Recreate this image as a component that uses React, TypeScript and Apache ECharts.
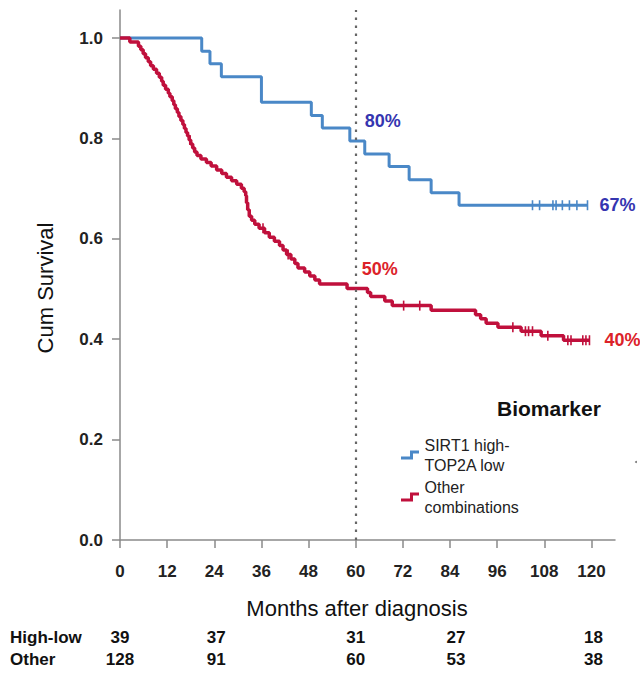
import React, { useEffect, useRef } from 'react';
import * as echarts from 'echarts';

const FONT = "'Liberation Sans', Arial, Helvetica, sans-serif";

// axis ticks
const xTicks = [0, 12, 24, 36, 48, 60, 72, 84, 96, 108, 120];
const yTicks = [0, 0.2, 0.4, 0.6, 0.8, 1.0];

// group names
const blueName = 'SIRT1 high-TOP2A low';
const redName = 'Other combinations';
const legendTitle = 'Biomarker';

// Kaplan-Meier steps [month, survival after the drop]
const blueSteps = [
  [0, 1.0], [20.8, 0.974], [22.9, 0.949], [25.8, 0.923], [36.0, 0.872],
  [48.7, 0.846], [51.5, 0.821], [58.5, 0.795], [62.3, 0.769], [68.5, 0.744],
  [73.6, 0.718], [79.2, 0.692], [86.3, 0.667], [119.0, 0.667],
];

const blueCensored = [
  [105.0, 0.667], [106.8, 0.667], [110.2, 0.667], [111.0, 0.667],
  [112.6, 0.667], [114.4, 0.667], [116.3, 0.667], [119.0, 0.667],
];

const redSteps = [
  [0, 1.0], [2.5, 0.992], [4.7, 0.984], [5.3, 0.977], [5.9, 0.969], [6.5, 0.961],
  [7.2, 0.953], [7.8, 0.945], [8.5, 0.938], [9.3, 0.930], [10.0, 0.922],
  [10.6, 0.914], [11.0, 0.906], [11.6, 0.898], [12.3, 0.890], [12.7, 0.883],
  [13.3, 0.875], [13.7, 0.867], [14.1, 0.859], [14.6, 0.852], [15.0, 0.844],
  [15.5, 0.836], [16.0, 0.828], [16.4, 0.820], [16.8, 0.812], [17.2, 0.805],
  [17.6, 0.797], [18.0, 0.789], [18.5, 0.781], [19.0, 0.773], [19.6, 0.766],
  [20.6, 0.759], [22.0, 0.752], [23.2, 0.745], [24.6, 0.737], [25.9, 0.730],
  [27.1, 0.723], [28.4, 0.716], [29.7, 0.709], [30.9, 0.701], [31.6, 0.694],
  [32.0, 0.686], [32.2, 0.672], [32.5, 0.658], [32.9, 0.645], [33.5, 0.637],
  [34.3, 0.629], [35.4, 0.621], [36.8, 0.612], [38.0, 0.603], [39.3, 0.595],
  [40.6, 0.587], [41.5, 0.578], [42.4, 0.569], [43.5, 0.560], [44.5, 0.551],
  [45.3, 0.542], [47.0, 0.534], [48.3, 0.526], [49.6, 0.518], [50.8, 0.510],
  [57.8, 0.501], [63.0, 0.493], [63.8, 0.485], [67.4, 0.476], [69.3, 0.467],
  [79.2, 0.458], [90.5, 0.449], [91.8, 0.441], [93.2, 0.432], [96.2, 0.424],
  [102.1, 0.416], [107.2, 0.407], [112.9, 0.398], [119.5, 0.398],
];

const redCensored = [
  [17.8, 0.797], [36.4, 0.621], [42.8, 0.569], [72.2, 0.467], [76.3, 0.467],
  [100.0, 0.424], [103.2, 0.416], [104.0, 0.416], [105.0, 0.416], [108.9, 0.407],
  [114.0, 0.398], [114.8, 0.398], [117.8, 0.398], [118.6, 0.398], [119.5, 0.398],
];

// survival annotations [month, survival, text]
const bluePct = [[60, 0.795, '80%'], [119, 0.667, '67%']];
const redPct = [[60, 0.501, '50%'], [119.5, 0.398, '40%']];

// numbers at risk
const riskRows = ['High-low', 'Other'];
const riskTimes = [0, 24, 60, 84, 120];
const riskHighLow = [39, 37, 31, 27, 18];
const riskOther = [128, 91, 60, 53, 38];

const BLUE = '#4A88C7';
const RED = '#C0103C';
const BLUE_TXT = '#3535B0';
const RED_TXT = '#DC2229';
const AXIS = '#8a8a8a';

export default function App() {
  const ref = useRef<HTMLDivElement>(null);

  useEffect(() => {
    document.body.style.margin = '0';
    if (!ref.current) return;
    const chart = echarts.init(ref.current, null, { renderer: 'svg' });

    const pctOffsets = [[27, -20], [30, 0]];
    const redPctOffsets = [[24, -20], [33, 0]];
    const riskOffsets = [0, 2, 0, 6, 2];

    const riskData: any[] = [];
    riskTimes.forEach((t, i) => {
      riskData.push({ value: [t, riskRows[0], riskHighLow[i]], label: { offset: [riskOffsets[i], 0] } });
      riskData.push({ value: [t, riskRows[1], riskOther[i]], label: { offset: [riskOffsets[i], 0] } });
    });

    const tickLabel = { fontSize: 17, fontWeight: 'bold', color: '#222', fontFamily: FONT };

    const option: any = {
      animation: false,
      backgroundColor: '#ffffff',
      textStyle: { fontFamily: FONT },
      title: {
        text: legendTitle,
        left: 492,
        top: 393,
        textStyle: { fontSize: 21, fontWeight: 'bold', color: '#111', fontFamily: FONT },
      },
      legend: {
        orient: 'vertical',
        left: 396,
        top: 430,
        itemWidth: 19,
        itemHeight: 9,
        itemGap: 2,
        icon: 'path://M0,7H9V1H18V4H12V10H0Z',
        data: [blueName, redName],
        formatter: (n: string) => (n === blueName ? 'SIRT1 high-\nTOP2A low' : 'Other\ncombinations'),
        textStyle: { fontSize: 16, lineHeight: 20, color: '#222', fontFamily: FONT },
      },
      grid: [
        { left: 120, right: 25, top: 10, bottom: 137 },
        { left: 120, right: 25, top: 626, height: 44 },
      ],
      xAxis: [
        {
          type: 'value',
          min: 0,
          max: 126,
          axisLine: { show: true, lineStyle: { color: AXIS, width: 1.5 } },
          axisTick: { show: true, length: 8, customValues: xTicks, lineStyle: { color: AXIS, width: 1.5 } },
          axisLabel: { customValues: xTicks, margin: 23, ...tickLabel },
          splitLine: { show: false },
        },
        { gridIndex: 1, type: 'value', min: 0, max: 126, show: false },
      ],
      yAxis: [
        {
          type: 'value',
          min: 0,
          max: 1.056,
          axisLine: { show: true, lineStyle: { color: AXIS, width: 1.5 } },
          axisTick: { show: true, length: 8, customValues: yTicks, lineStyle: { color: AXIS, width: 1.5 } },
          axisLabel: { customValues: yTicks, margin: 17, formatter: (v: number) => v.toFixed(1), ...tickLabel },
          splitLine: { show: false },
        },
        {
          gridIndex: 1,
          type: 'category',
          data: riskRows,
          inverse: true,
          axisLine: { show: false },
          axisTick: { show: false },
          axisLabel: {
            interval: 0,
            hideOverlap: false,
            align: 'left',
            margin: 110,
            fontSize: 17,
            fontWeight: 'bold',
            color: '#111',
            fontFamily: FONT,
          },
        },
      ],
      graphic: [
        {
          type: 'text',
          x: 45,
          y: 288,
          rotation: Math.PI / 2,
          style: { text: 'Cum Survival', fill: '#111', font: `22px ${FONT}`, align: 'center', verticalAlign: 'middle' },
        },
        {
          type: 'text',
          x: 357,
          y: 608,
          style: { text: 'Months after diagnosis', fill: '#111', font: `22px ${FONT}`, align: 'center', verticalAlign: 'middle' },
        },
        { type: 'circle', shape: { cx: 636, cy: 462, r: 1 }, style: { fill: '#777' } },
      ],
      series: [
        {
          name: blueName,
          type: 'line',
          step: 'end',
          data: blueSteps,
          showSymbol: false,
          symbol: 'none',
          lineStyle: { color: BLUE, width: 3 },
          itemStyle: { color: BLUE },
          z: 3,
          markLine: {
            silent: true,
            symbol: ['none', 'none'],
            label: { show: false },
            lineStyle: { type: [2.5, 5.5], color: '#666', width: 2.2 },
            data: [{ xAxis: 60 }],
          },
        },
        {
          name: redName,
          type: 'line',
          step: 'end',
          data: redSteps,
          showSymbol: false,
          symbol: 'none',
          lineStyle: { color: RED, width: 3.5 },
          itemStyle: { color: RED },
          z: 4,
        },
        {
          name: 'blue-censor',
          type: 'scatter',
          data: blueCensored,
          symbol: 'rect',
          symbolSize: [1.6, 10],
          itemStyle: { color: BLUE, opacity: 1 },
          z: 5,
        },
        {
          name: 'red-censor',
          type: 'scatter',
          data: redCensored,
          symbol: 'rect',
          symbolSize: [1.6, 10],
          itemStyle: { color: RED, opacity: 1 },
          z: 5,
        },
        {
          name: 'blue-pct',
          type: 'scatter',
          symbolSize: 0,
          itemStyle: { opacity: 1 },
          data: bluePct.map((d, i) => ({
            value: [d[0], d[1]],
            label: { offset: pctOffsets[i] },
            text: d[2],
          })),
          label: {
            show: true,
            position: 'inside',
            formatter: (p: any) => p.data.text,
            fontSize: 18,
            fontWeight: 'bold',
            color: BLUE_TXT,
            opacity: 1,
            fontFamily: FONT,
          },
          z: 6,
        },
        {
          name: 'red-pct',
          type: 'scatter',
          symbolSize: 0,
          itemStyle: { opacity: 1 },
          data: redPct.map((d, i) => ({
            value: [d[0], d[1]],
            label: { offset: redPctOffsets[i] },
            text: d[2],
          })),
          label: {
            show: true,
            position: 'inside',
            formatter: (p: any) => p.data.text,
            fontSize: 18,
            fontWeight: 'bold',
            color: RED_TXT,
            opacity: 1,
            fontFamily: FONT,
          },
          z: 6,
        },
        {
          name: 'risk',
          type: 'scatter',
          xAxisIndex: 1,
          yAxisIndex: 1,
          symbolSize: 0,
          itemStyle: { opacity: 1 },
          data: riskData,
          label: {
            show: true,
            position: 'inside',
            formatter: (p: any) => String(p.value[2]),
            fontSize: 17,
            fontWeight: 'bold',
            color: '#111',
            fontFamily: FONT,
          },
        },
      ],
    };

    chart.setOption(option);
    return () => chart.dispose();
  }, []);

  return <div ref={ref} style={{ width: 640, height: 677 }} />;
}
